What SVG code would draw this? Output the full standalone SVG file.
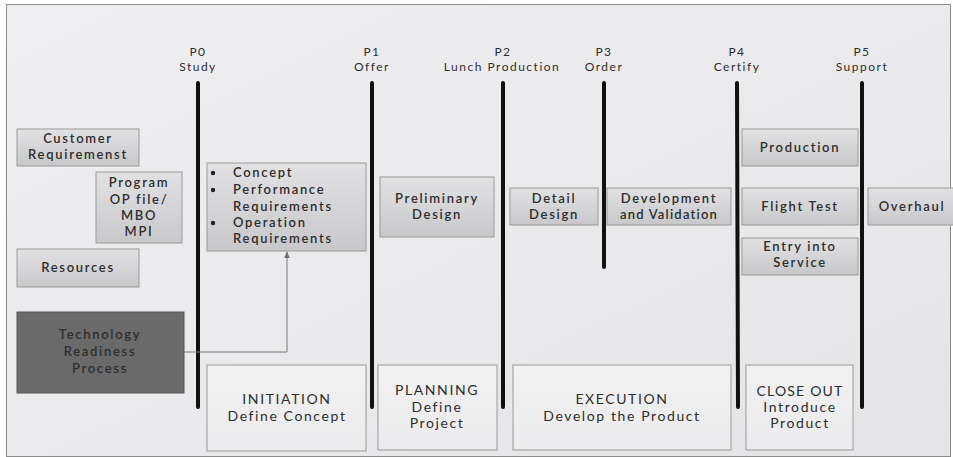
<svg xmlns="http://www.w3.org/2000/svg" width="953" height="457" viewBox="0 0 953 457">
<defs>
<linearGradient id="gGray" x1="0" y1="0" x2="0" y2="1">
<stop offset="0" stop-color="#e2e2e4"/>
<stop offset="1" stop-color="#c8c8ca"/>
</linearGradient>
<linearGradient id="gWhite" x1="0" y1="0" x2="0" y2="1">
<stop offset="0" stop-color="#f2f2f3"/>
<stop offset="1" stop-color="#ebebed"/>
</linearGradient>
<linearGradient id="gBg" x1="0" y1="0" x2="1" y2="1">
<stop offset="0" stop-color="#efeff1"/>
<stop offset="1" stop-color="#e5e5e7"/>
</linearGradient>
<marker id="arr" viewBox="0 0 10 10" refX="9" refY="5" markerWidth="7" markerHeight="7" orient="auto">
<path d="M0,1 L10,5 L0,9 z" fill="#6f6f6f"/>
</marker>
<style>
text{font-family:Lato,"Open Sans",sans-serif;fill:#2e2e2e;text-anchor:middle}
.b{font-size:13px;font-weight:600;letter-spacing:1.7px}
.h{font-size:12px;letter-spacing:1.5px}
.w{font-size:14px;letter-spacing:1.6px}
.l{text-anchor:start}
.gray{fill:url(#gGray);stroke:#9a9a9a;stroke-width:1}
.white{fill:url(#gWhite);stroke:#9a9a9a;stroke-width:1}
.gate{stroke:#111;stroke-width:4;stroke-linecap:round}
.conn{fill:none;stroke:#7a7a7a;stroke-width:1}
</style>
</defs>
<rect x="0" y="0" width="953" height="457" fill="#ffffff"/>
<rect x="6.5" y="4.5" width="944" height="452" fill="url(#gBg)" stroke="#8a8a8a" stroke-width="1"/>

<g id="gates">
<g id="P0"><line class="gate" x1="198" y1="83" x2="198" y2="407"/><text class="h" x="198" y="56">P0</text><text class="h" x="198" y="71">Study</text></g>
<g id="P1"><line class="gate" x1="372" y1="83" x2="372" y2="407"/><text class="h" x="372" y="56">P1</text><text class="h" x="372" y="71">Offer</text></g>
<g id="P2"><line class="gate" x1="503" y1="83" x2="503" y2="407"/><text class="h" x="503" y="56">P2</text><text class="h" x="502" y="71">Lunch Production</text></g>
<g id="P3"><line class="gate" x1="604" y1="83" x2="604" y2="267"/><text class="h" x="604" y="56">P3</text><text class="h" x="604" y="71">Order</text></g>
<g id="P4"><line class="gate" x1="737" y1="83" x2="738" y2="407"/><text class="h" x="737" y="56">P4</text><text class="h" x="737" y="71">Certify</text></g>
<g id="P5"><line class="gate" x1="862" y1="83" x2="862" y2="407"/><text class="h" x="862" y="56">P5</text><text class="h" x="862" y="71">Support</text></g>
</g>

<g id="connectors">
<path class="conn" d="M184,352 H287 V252" marker-end="url(#arr)"/>
</g>

<g id="customer"><rect class="gray" x="17" y="129" width="122" height="37"/><text class="b" x="78" y="143">Customer</text><text class="b" x="78" y="159">Requiremenst</text></g>
<g id="program"><rect class="gray" x="96" y="172" width="86" height="71"/><text class="b" x="139" y="187">Program</text><text class="b" x="139" y="204">OP file/</text><text class="b" x="139" y="220">MBO</text><text class="b" x="139" y="236">MPI</text></g>
<g id="resources"><rect class="gray" x="17" y="249" width="122" height="38"/><text class="b" x="78" y="272">Resources</text></g>
<g id="tech"><rect x="17" y="312" width="167" height="81" fill="#6a6a6b" stroke="#575757"/><text class="b" x="100" y="339">Technology</text><text class="b" x="100" y="356">Readiness</text><text class="b" x="100" y="373">Process</text></g>
<g id="concept"><rect class="gray" x="207" y="163" width="159" height="88"/>
<circle cx="213" cy="173" r="2.2" fill="#222"/><text class="b l" x="233" y="177">Concept</text>
<circle cx="213" cy="190" r="2.2" fill="#222"/><text class="b l" x="233" y="194">Performance</text>
<text class="b l" x="233" y="211">Requirements</text>
<circle cx="213" cy="223" r="2.2" fill="#222"/><text class="b l" x="233" y="227">Operation</text>
<text class="b l" x="233" y="243">Requirements</text>
</g>
<g id="preliminary"><rect class="gray" x="380" y="177" width="114" height="60"/><text class="b" x="437" y="203">Preliminary</text><text class="b" x="437" y="219">Design</text></g>
<g id="detail"><rect class="gray" x="510" y="188" width="88" height="37"/><text class="b" x="554" y="203">Detail</text><text class="b" x="554" y="219">Design</text></g>
<g id="devval"><rect class="gray" x="607" y="188" width="124" height="37"/><text class="b" x="669" y="203">Development</text><text class="b" x="669" y="219" style="letter-spacing:1.2px">and Validation</text></g>
<g id="production"><rect class="gray" x="742" y="129" width="116" height="37"/><text class="b" x="800" y="152">Production</text></g>
<g id="flighttest"><rect class="gray" x="742" y="188" width="116" height="37"/><text class="b" x="800" y="211">Flight Test</text></g>
<g id="eis"><rect class="gray" x="742" y="238" width="116" height="37"/><text class="b" x="800" y="251">Entry into</text><text class="b" x="800" y="267">Service</text></g>
<g id="overhaul"><rect class="gray" x="868" y="188" width="90" height="37"/><text class="b" x="912" y="211">Overhaul</text></g>

<g id="initiation"><rect class="white" x="207" y="365" width="159" height="86"/><text class="w" x="287" y="404">INITIATION</text><text class="w" x="287" y="421">Define Concept</text></g>
<g id="planning"><rect class="white" x="378" y="365" width="119" height="85"/><text class="w" x="437" y="395">PLANNING</text><text class="w" x="437" y="412">Define</text><text class="w" x="437" y="428">Project</text></g>
<g id="execution"><rect class="white" x="513" y="365" width="218" height="85"/><text class="w" x="622" y="404">EXECUTION</text><text class="w" x="622" y="421">Develop the Product</text></g>
<g id="closeout"><rect class="white" x="746" y="365" width="107" height="85"/><text class="w" x="800" y="396" style="letter-spacing:1.2px">CLOSE OUT</text><text class="w" x="800" y="412">Introduce</text><text class="w" x="800" y="428">Product</text></g>
</svg>
